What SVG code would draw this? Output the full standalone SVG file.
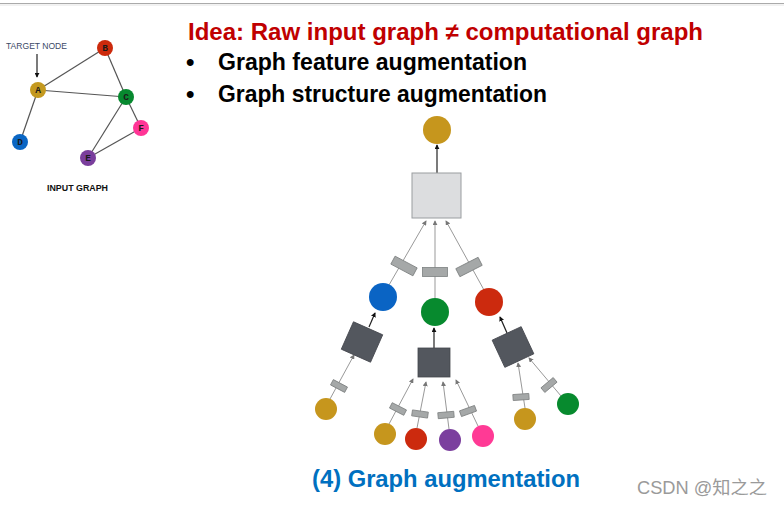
<svg xmlns="http://www.w3.org/2000/svg" width="784" height="505" viewBox="0 0 784 505">
<defs>
<marker id="ab" viewBox="0 0 6 6" refX="5" refY="3" markerWidth="5" markerHeight="5" markerUnits="userSpaceOnUse" orient="auto"><path d="M0,0 L6,3 L0,6 z" fill="#111"/></marker>
<marker id="ag" viewBox="0 0 6 6" refX="5" refY="3" markerWidth="5" markerHeight="5" markerUnits="userSpaceOnUse" orient="auto"><path d="M0,0 L6,3 L0,6 z" fill="#777"/></marker>
<style>
.ed{stroke:#555;stroke-width:1.2;fill:none}
.dk{stroke:#222;stroke-width:1.2;fill:none}
.gl{stroke:#999;stroke-width:1;fill:none}
.gr{fill:#a5a8a8;stroke:#7d8080;stroke-width:0.8}
.sq{fill:#53575e;stroke:#44474d;stroke-width:0.8}
.lt{font-family:"Courier New","Liberation Mono",monospace;font-weight:bold;font-size:9.5px;fill:#1a1a1a;text-anchor:middle}
.big{font-family:"Liberation Sans",Arial,sans-serif;font-weight:bold;font-size:24px}
</style>
</defs>
<line x1="0" y1="3.5" x2="784" y2="3.5" stroke="#aaa" stroke-width="1.2"/>
<line x1="0" y1="5" x2="784" y2="5" stroke="#e4e4e4" stroke-width="1"/>

<!-- input graph -->
<g id="input-edges">
<line class="ed" x1="38" y1="90" x2="105" y2="48"/>
<line class="ed" x1="38" y1="90" x2="126" y2="97"/>
<line class="ed" x1="38" y1="90" x2="20" y2="142"/>
<line class="ed" x1="105" y1="48" x2="126" y2="97"/>
<line class="ed" x1="126" y1="97" x2="88" y2="158"/>
<line class="ed" x1="126" y1="97" x2="141" y2="128"/>
<line class="ed" x1="88" y1="158" x2="141" y2="128"/>
<line class="dk" x1="37" y1="54" x2="37" y2="77" marker-end="url(#ab)"/>
</g>
<text x="6" y="49" font-family="Liberation Sans,Arial,sans-serif" font-size="8.5" fill="#3b4a66" textLength="61" lengthAdjust="spacingAndGlyphs">TARGET NODE</text>
<g id="nA"><circle cx="38" cy="90" r="8" fill="#c4991f"/><text class="lt" x="38" y="93">A</text></g>
<g id="nB"><circle cx="105" cy="48" r="8" fill="#cc2a0c"/><text class="lt" x="105" y="51">B</text></g>
<g id="nC"><circle cx="126" cy="97" r="8" fill="#07892f"/><text class="lt" x="126" y="100">C</text></g>
<g id="nD"><circle cx="20" cy="142" r="8" fill="#0a66c4"/><text class="lt" x="20" y="145">D</text></g>
<g id="nE"><circle cx="88" cy="158" r="8" fill="#7a3e9c"/><text class="lt" x="88" y="161">E</text></g>
<g id="nF"><circle cx="141" cy="128" r="8" fill="#ff3596"/><text class="lt" x="141" y="131">F</text></g>
<text x="47" y="191" font-family="Liberation Sans,Arial,sans-serif" font-weight="bold" font-size="8.5" fill="#111" textLength="61" lengthAdjust="spacingAndGlyphs">INPUT GRAPH</text>

<!-- texts -->
<text class="big" x="188" y="40" fill="#c00000" textLength="515" lengthAdjust="spacingAndGlyphs">Idea: Raw input graph ≠ computational graph</text>
<text class="big" x="186" y="70" fill="#000">•</text>
<text class="big" x="218" y="70" fill="#000" textLength="309" lengthAdjust="spacingAndGlyphs">Graph feature augmentation</text>
<text class="big" x="186" y="102" fill="#000">•</text>
<text class="big" x="218" y="102" fill="#000" textLength="329" lengthAdjust="spacingAndGlyphs">Graph structure augmentation</text>
<text class="big" x="312" y="487" fill="#0070c0" textLength="268" lengthAdjust="spacingAndGlyphs">(4) Graph augmentation</text>
<text x="637" y="494" font-family="Liberation Sans,'Noto Sans CJK SC',sans-serif" font-size="18" fill="#9a9a9a" textLength="130" lengthAdjust="spacingAndGlyphs">CSDN @知之之</text>

<!-- computational graph connectors -->
<g id="connectors">
<line class="dk" x1="437" y1="173" x2="437" y2="145" marker-end="url(#ab)"/>
<line class="gl" x1="389" y1="285" x2="426" y2="221" marker-end="url(#ag)"/>
<line class="gl" x1="435" y1="298" x2="435" y2="221" marker-end="url(#ag)"/>
<line class="gl" x1="484" y1="290" x2="446" y2="221" marker-end="url(#ag)"/>
<line class="dk" x1="369" y1="327" x2="375" y2="313" marker-end="url(#ab)"/>
<line class="dk" x1="434" y1="348" x2="434" y2="328" marker-end="url(#ab)"/>
<line class="dk" x1="507" y1="333" x2="500" y2="317" marker-end="url(#ab)"/>
<line class="gl" x1="330" y1="399" x2="354" y2="355" marker-end="url(#ag)"/>
<line class="gl" x1="389" y1="424" x2="413" y2="379" marker-end="url(#ag)"/>
<line class="gl" x1="417" y1="428" x2="426" y2="382" marker-end="url(#ag)"/>
<line class="gl" x1="449" y1="429" x2="443" y2="382" marker-end="url(#ag)"/>
<line class="gl" x1="478" y1="426" x2="456" y2="380" marker-end="url(#ag)"/>
<line class="gl" x1="525" y1="408" x2="518" y2="363" marker-end="url(#ag)"/>
<line class="gl" x1="561" y1="396" x2="529" y2="358" marker-end="url(#ag)"/>
<rect class="gr" x="-12.5" y="-4.5" width="25" height="9" transform="translate(404,266) rotate(28)"/>
<rect class="gr" x="-12.5" y="-4.5" width="25" height="9" transform="translate(435,272)"/>
<rect class="gr" x="-12.5" y="-4.5" width="25" height="9" transform="translate(469,267) rotate(-27)"/>
<rect class="gr" x="-8" y="-3" width="16" height="6" transform="translate(339,386) rotate(28)"/>
<rect class="gr" x="-8" y="-3" width="16" height="6" transform="translate(398,409) rotate(27)"/>
<rect class="gr" x="-8" y="-3" width="16" height="6" transform="translate(420,414) rotate(8)"/>
<rect class="gr" x="-8" y="-3" width="16" height="6" transform="translate(446,415) rotate(-5)"/>
<rect class="gr" x="-8" y="-3" width="16" height="6" transform="translate(468,411) rotate(-20)"/>
<rect class="gr" x="-8" y="-3" width="16" height="6" transform="translate(521,397) rotate(-4)"/>
<rect class="gr" x="-8" y="-3" width="16" height="6" transform="translate(549,385) rotate(-40)"/>
</g>

<!-- computational graph nodes -->
<g id="top"><circle cx="437" cy="130" r="14" fill="#c6961d"/></g>
<g id="agg-top"><rect x="412" y="173" width="49" height="45" fill="#dcdddf" stroke="#9a9da0" stroke-width="1"/></g>
<g id="blue"><circle cx="383" cy="297" r="14" fill="#0a64c4"/></g>
<g id="green"><circle cx="435" cy="312" r="14" fill="#078a2e"/></g>
<g id="red"><circle cx="489" cy="302" r="14" fill="#cc2a0e"/></g>
<g id="agg-left"><rect class="sq" x="-16" y="-15" width="32" height="30" transform="translate(362,342) rotate(24)"/></g>
<g id="agg-mid"><rect class="sq" x="418" y="348" width="32" height="29"/></g>
<g id="agg-right"><rect class="sq" x="-16" y="-15" width="32" height="30" transform="translate(513,347) rotate(-25)"/></g>
<g id="l-gold"><circle cx="326" cy="409" r="11" fill="#c6961d"/></g>
<g id="m-gold"><circle cx="385" cy="434" r="11" fill="#c6961d"/></g>
<g id="m-red"><circle cx="416" cy="439" r="11" fill="#cc2a0e"/></g>
<g id="m-purple"><circle cx="450" cy="440" r="11" fill="#7b3f9e"/></g>
<g id="m-pink"><circle cx="483" cy="436" r="11" fill="#ff3a95"/></g>
<g id="r-gold"><circle cx="525" cy="419" r="11" fill="#c6961d"/></g>
<g id="r-green"><circle cx="568" cy="404" r="11" fill="#078a2e"/></g>
</svg>
